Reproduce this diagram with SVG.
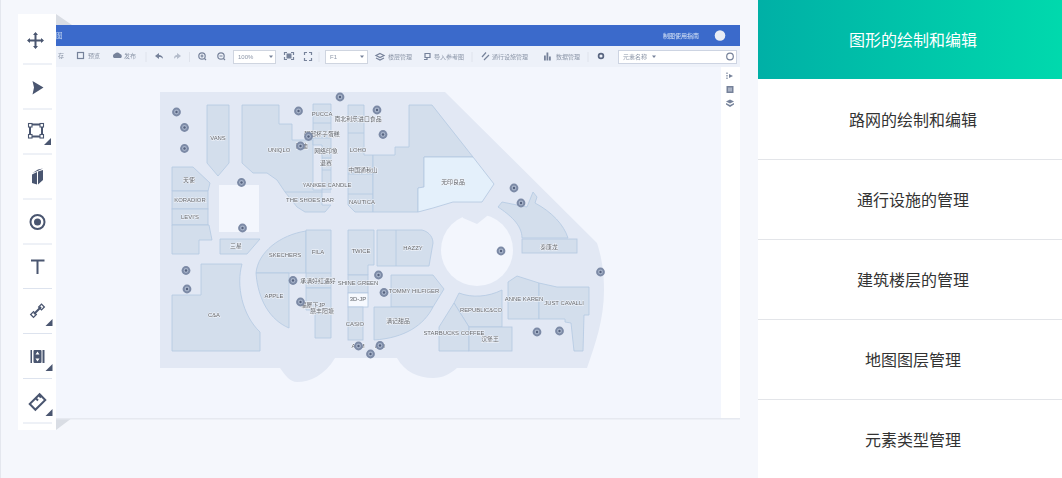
<svg xmlns="http://www.w3.org/2000/svg" width="1062" height="478" viewBox="0 0 1062 478">
<defs>
<linearGradient id="g" x1="0" y1="0" x2="1" y2="0"><stop offset="0" stop-color="#00b0a6"/><stop offset="1" stop-color="#00d9ad"/></linearGradient>
<filter id="soft" x="-2%" y="-2%" width="104%" height="104%"><feGaussianBlur stdDeviation="0.45"/></filter>
<g id="pin"><circle r="4.4" fill="#7c8aa6"/><circle r="2.4" fill="#a9b5cb"/><circle r="1.2" fill="#55627e"/></g>
<path id="corner" d="M0 0L-7 7H0Z" fill="#4a5670"/>
</defs>
<style>
text{font-family:"Liberation Sans","Noto Sans CJK SC",sans-serif}
.s{fill:#d3deec;stroke:#b4c9e2;stroke-width:.8}
.l{font-size:5.900px;fill:#63666c;text-anchor:middle;stroke:#f3f6fb;stroke-width:1px;paint-order:stroke}
.t{font-size:6px;fill:#8c96a8}
.i{fill:none;stroke:#76829a;stroke-width:1.200}
.f{fill:#76829a}
.sep{stroke:#dfe3ec;stroke-width:1}
.ic{fill:none;stroke:#4a5670;stroke-width:2}
.icf{fill:#4a5670}
.m{font-size:16px;fill:#333;text-anchor:middle}
.d{stroke:#e3e5e9;stroke-width:1}
.dt{stroke:#dde3ee;stroke-width:1}
</style>
<rect width="1062" height="478" fill="#f5f7fc"/>
<rect x="0" y="0" width="1" height="478" fill="#e4e7ee"/>

<g id="window" filter="url(#soft)">
<path d="M56 14L72 25H56Z" fill="#d9dde4"/>
<path d="M56 418H72L56 430Z" fill="#d9dde4"/>
<rect x="56" y="417" width="684" height="2.500" fill="#e6e9f0"/>
<rect x="56" y="25" width="684" height="393" fill="#f3f6fd"/>
<rect x="56" y="25" width="684" height="21" fill="#3a6bcb"/>
<text x="56" y="38" font-size="6.500" fill="#c8d8f2">图</text>
<text x="663" y="38" font-size="6" fill="#dce6f7">制图使用指南</text>
<circle cx="720" cy="35.500" r="5.300" fill="#e9edf5"/>
<rect x="56" y="46" width="684" height="21" fill="#edf1f9"/>
<rect x="721" y="67" width="19" height="351" fill="#fff"/>

<g id="toolbar">
<text x="58" y="58" class="t">存</text>
<rect x="77.500" y="52.500" width="6" height="6" class="i"/><text x="88" y="58" class="t">预览</text>
<path d="M114 58a2.500 2.500 0 0 1 1-4.500a3 3 0 0 1 5 .5a2.300 2.300 0 0 1 1 4Z" class="f"/><text x="124" y="58" class="t">发布</text>
<path class="sep" d="M146 52V62M189.500 52V62M319 52V62M472 52V62M588 52V62"/>
<path d="M155 56L159 53V55C161 55 163 56 163 59C162 57.500 161 57 159 57V59Z" class="f"/>
<path d="M181 56L177 53V55C175 55 174 56 174 59C175 57.500 176 57 177 57V59Z" fill="#b4bccb"/>
<circle cx="202" cy="56" r="3.200" class="i"/><path d="M200.500 56H203.500M202 54.500V57.500M204.500 58.500L206 60" class="i" stroke-width=".8"/>
<circle cx="221" cy="56" r="3.200" class="i"/><path d="M219.500 56H222.500M223.500 58.500L225 60" class="i" stroke-width=".8"/>
<rect x="233.500" y="50.500" width="42" height="13" fill="#fff" stroke="#cfd5e0"/><text x="238" y="58.500" class="t">100%</text><path d="M269 55.500H273L271 58Z" class="f"/>
<rect x="286.500" y="53.500" width="5" height="5" fill="#76829a"/><path d="M284.500 55V52.500H287M291 52.500H293.500V55M293.500 57V59.500H291M287 59.500H284.500V57" class="i" stroke-width=".9"/>
<path d="M304.500 55V52.500H307M309 52.500H311.500V55M311.500 58V60.500H309M307 60.500H304.500V58" class="i" stroke-width=".9"/>
<rect x="325.500" y="50.500" width="42" height="13" fill="#fff" stroke="#cfd5e0"/><text x="330" y="58.500" class="t">F1</text><path d="M360 55.500H364L362 58Z" class="f"/>
<path d="M380 53.500L384 55.500L380 57.500L376 55.500ZM376 58L380 60L384 58" class="i" stroke-width="1"/><text x="388" y="58.500" class="t">楼层管理</text>
<path d="M425 53.500H430V57.500H425ZM424 59.500H427V57" class="i" stroke-width="1"/><text x="434" y="58.500" class="t">导入参考图</text>
<path d="M482 57L486 52.500M484 60L489 55" class="i"/><text x="492" y="58.500" class="t">通行设施管理</text>
<path d="M544 55.500h1.800v5h-1.800zM546.500 52.500h1.800v8h-1.800zM549 56.500h1.800v4H549z" class="f"/><text x="556" y="58.500" class="t">数据管理</text>
<circle cx="601" cy="56" r="2.400" fill="none" stroke="#5a6680" stroke-width="1.700"/>
<rect x="618.500" y="50.500" width="118" height="13" fill="#fff" stroke="#cdd4e2"/><text x="623" y="58.500" class="t">元素名称</text><path d="M652 55.500H656L654 58Z" class="f"/>
<circle cx="730" cy="56.500" r="3.300" class="i" stroke-width=".9"/>
<path d="M727 72.500v1.500M727 75v1.500M727 77.500v1.500" class="i"/><path d="M729 74L733 76L729 78Z" class="f"/>
<rect x="726.500" y="86" width="7" height="7" class="f"/><rect x="728" y="87.500" width="4" height="4" fill="#a9b2c4"/>
<path d="M730 99.500L734 101.500L730 103.500L726 101.500ZM726 103L730 105L734 103V104.500L730 107L726 104.500Z" class="f"/>
</g>

<g id="map">
<path d="M160 92H445L597 243C601 255 604 270 604 290C604 320 595 345 587 368H457C450 374 443 378 433 378C418 378 405 372 397 358H335C325 375 310 382 297 382C290 382 285 375 280 368H160Z" fill="#e2e8f4"/>
<circle cx="477" cy="250" r="36" fill="#f3f6fd"/>
<path d="M458 208L463 218L477 224L487 216L494 208Z" fill="#e2e8f4"/>
<rect x="219" y="185" width="40" height="47" fill="#f3f6fd"/>

<path class="s" d="M207 105H229V163L218 176L207 163Z"/>
<path class="s" d="M242 105H279V124H292V140H313V190H322V205L331 205L325 212H305L297 207L285 192L277 180L267 173H253L242 163Z"/>
<path class="s" d="M285 192H331"/>
<path class="s" d="M313 104H331V190H322V145H313Z"/>
<path class="s" d="M313 123H331M313 138H331M322 158H331M322 170H331"/>
<path class="s" d="M348 105H364V155H373V212H355L348 205Z"/>
<path class="s" d="M348 133H364M348 174H373M348 194H373"/>
<path class="s" d="M373 155H395V147H409V105H432L473 157H424V187L418 188V212H373Z"/>
<path d="M424 157H473L494 184L482 202H453L433 208L418 212V188L424 187Z" fill="#e4f0fb" stroke="#b2c7e0" stroke-width=".8"/>
<path class="s" d="M498 207L502 202L527 207L533 192L537 197L535 203C552 212 564 225 568 238H522C522 225 510 215 498 207Z"/>
<rect class="s" x="522" y="239" width="55" height="14"/>
<path class="s" d="M172 167H193L210 183L208 191H172Z"/>
<rect class="s" x="172" y="191" width="36" height="18"/>
<rect class="s" x="172" y="209" width="36" height="16"/>
<path class="s" d="M172 225H209L212 240H199V254H172Z"/>
<path class="s" d="M220 239H260L247 254H220Z"/>
<path class="s" d="M201 264H242C236 285 242 315 260 332V351H172V295H201Z"/>
<path class="s" d="M256 273C258 252 280 235 306 231V273Z"/>
<path class="s" d="M306 230H331V288H306Z"/>
<path class="s" d="M306 273H331"/>
<path class="s" d="M256 273H289V328C270 320 258 300 256 273Z"/>
<path class="s" d="M306 288H331V338H315V310H306Z"/>
<path class="s" d="M348 230H374V265H368V275H348Z"/>
<rect class="s" x="348" y="275" width="20" height="18"/>
<rect x="348" y="293" width="20" height="14" fill="#f6f9fe" stroke="#b2c7e0" stroke-width=".8"/>
<rect class="s" x="348" y="307" width="15" height="33"/>
<path class="s" d="M377 230H422C430 232 433 238 433 243L429 266H377ZM396 230V266"/>
<path class="s" d="M391 275H433L444 289L433 307H391Z"/>
<path class="s" d="M374 307H433C424 325 405 338 374 340Z"/>
<path class="s" d="M459 293C472 298 488 297 502 290V327H469L454 303Z"/>
<path class="s" d="M454 303L469 327V351H439V327Z"/>
<rect class="s" x="469" y="327" width="43" height="24"/>
<path class="s" d="M508 282L517 276L539 283V319H508Z"/>
<path class="s" d="M539 283L557 287H589V315H584L583 351H574L571 323L565 322V319H539Z"/>

<g id="labels">
<text class="l" x="218" y="139.500">VANS</text>
<text class="l" x="279" y="152">UNIQLO</text>
<text class="l" x="322" y="116">PUCCA</text>
<text class="l" x="358" y="120.500">南北利乐进口食品</text>
<text class="l" x="322" y="135.500">粥邸杯子蛋糕</text>
<text class="l" x="302" y="148">阿迪</text>
<text class="l" x="326" y="152.500">网络印象</text>
<text class="l" x="326" y="164.500">退赛</text>
<text class="l" x="358" y="152">LOHO</text>
<text class="l" x="363" y="171.500">中国通秋山</text>
<text class="l" x="327" y="187">YANKEE CANDLE</text>
<text class="l" x="310" y="202">THE SHOES BAR</text>
<text class="l" x="362" y="204">NAUTICA</text>
<text class="l" x="453" y="184">无印良品</text>
<text class="l" x="189" y="181.500">天使</text>
<text class="l" x="190" y="201.500">KORADIOR</text>
<text class="l" x="190" y="219">LEVI'S</text>
<text class="l" x="236" y="247.500">三星</text>
<text class="l" x="285" y="256.500">SKECHERS</text>
<text class="l" x="318" y="253.500">FILA</text>
<text class="l" x="361" y="252.500">TWICE</text>
<text class="l" x="413" y="250">HAZZY</text>
<text class="l" x="549" y="248.500">泰康龙</text>
<text class="l" x="274" y="297.500">APPLE</text>
<text class="l" x="318" y="282.500">承满好红遇好</text>
<text class="l" x="358" y="284.500">SHINE GREEN</text>
<text class="l" x="358" y="300.500">3D-JP</text>
<text class="l" x="414" y="292.500">TOMMY HILFIGER</text>
<text class="l" x="313" y="307">福屋下JP</text>
<text class="l" x="322" y="312.500">膳丰阳塘</text>
<text class="l" x="214" y="316.500">C&amp;A</text>
<text class="l" x="355" y="325.500">CASIO</text>
<text class="l" x="398" y="323">满记甜品</text>
<text class="l" x="481" y="311.500">REPUBLIC&amp;CO</text>
<text class="l" x="454" y="334.500">STARBUCKS COFFEE</text>
<text class="l" x="490" y="340.500">汉堡王</text>
<text class="l" x="524" y="300.500">ANNE KAREN</text>
<text class="l" x="564" y="304.500">JUST CAVALLI</text>
<text class="l" x="358" y="348">ADM</text>
<text class="l" x="380" y="348">ADI</text>
</g>
<g id="pins">
<use href="#pin" x="176.500" y="112"/><use href="#pin" x="184.500" y="127.500"/><use href="#pin" x="184.500" y="148.500"/>
<use href="#pin" x="241.500" y="182.500"/><use href="#pin" x="242.500" y="228"/><use href="#pin" x="298.500" y="111"/>
<use href="#pin" x="340" y="97"/><use href="#pin" x="377" y="110"/><use href="#pin" x="383" y="134.500"/>
<use href="#pin" x="308.500" y="136.500"/><use href="#pin" x="300.500" y="146"/>
<use href="#pin" x="186" y="270.500"/><use href="#pin" x="187" y="289"/><use href="#pin" x="293" y="280.500"/><use href="#pin" x="300.500" y="302"/>
<use href="#pin" x="378.500" y="275"/><use href="#pin" x="384" y="292.500"/><use href="#pin" x="358.500" y="346"/><use href="#pin" x="380" y="345.500"/><use href="#pin" x="370.500" y="354"/>
<use href="#pin" x="501" y="251"/><use href="#pin" x="600.500" y="272"/><use href="#pin" x="537" y="332"/><use href="#pin" x="559.500" y="331"/>
<use href="#pin" x="514" y="188"/><use href="#pin" x="521" y="203"/>
</g>
</g>
</g>

<g id="tools">
<rect x="18" y="14" width="38" height="416" fill="#fff"/>
<path class="dt" d="M23 64H52M23 109H52M23 154H52M23 199H52M23 244H52M23 288.500H52M23 333.500H52M23 378.500H52M23 423H52"/>
<g id="tool-move"><path class="ic" stroke-width="1.500" d="M28.500 40.500H42.500M35.500 33.500V47.500"/><path class="icf" d="M35.500 32L38 35H33ZM35.500 49L38 46H33ZM27 40.500L30 38V43ZM44 40.500L41 38V43Z"/></g>
<path id="tool-select" class="icf" d="M32.500 81L43.500 87.500L32.500 94.500L34 87.500Z"/>
<g id="tool-shape"><rect x="30" y="124.500" width="12" height="12" class="ic" stroke-width="1.200"/><g fill="#fff" stroke="#4a5670" stroke-width="1.100"><rect x="28.500" y="123.500" width="3.500" height="3.500"/><rect x="40" y="123.500" width="3.500" height="3.500"/><rect x="28.500" y="134.500" width="3.500" height="3.500"/><rect x="40" y="134.500" width="3.500" height="3.500"/></g><use href="#corner" x="51" y="138"/></g>
<path id="tool-block" class="icf" d="M32 174.500L37 172V184.500L32 183ZM38 171.500L43 170V180L38 184.500ZM32.500 173L38 169.500L43 168.500L37.500 171Z"/>
<g id="tool-pin"><circle cx="37.500" cy="222" r="7" class="ic" stroke-width="2.200"/><circle cx="37.500" cy="222" r="3.500" class="icf"/></g>
<path id="tool-text" class="ic" d="M31 260.500H44.500M37.500 260.500V274"/>
<g id="tool-line"><path class="ic" stroke-width="1.300" d="M34 314L41 307"/><rect x="31.500" y="312.500" width="4" height="4" fill="none" stroke="#4a5670" stroke-width="1.300" transform="rotate(45 33.500 314.500)"/><rect x="39.500" y="305" width="4" height="4" fill="none" stroke="#4a5670" stroke-width="1.300" transform="rotate(45 41.500 307)"/><use href="#corner" x="52.500" y="319"/></g>
<g id="tool-stairs"><path class="icf" d="M30.500 350H32V363H30.500ZM42.500 350H44.500V363H42.500Z"/><rect x="33.500" y="350" width="8" height="13" rx="1" class="icf"/><path d="M37.500 351.500L39.500 354.500H35.500ZM37.500 361.500L39.500 358.500H35.500Z" fill="#fff"/><use href="#corner" x="52.500" y="364"/></g>
<g id="tool-ruler"><rect x="30.500" y="398" width="14" height="8" class="ic" stroke-width="1.500" transform="rotate(-45 37.500 402)"/><path class="ic" stroke-width="1" d="M36 398.500L38 400.500M39 395.500L41 397.500"/><use href="#corner" x="52.500" y="409"/></g>
</g>

<g id="menu">
<rect x="758" y="0" width="304" height="478" fill="#fff"/>
<g id="m1"><rect x="758" y="0" width="304" height="79" fill="url(#g)"/><text class="m" x="913" y="46" style="fill:#fff">图形的绘制和编辑</text></g>
<g id="m2"><text class="m" x="913" y="126">路网的绘制和编辑</text></g>
<g id="m3"><text class="m" x="913" y="206">通行设施的管理</text></g>
<g id="m4"><text class="m" x="913" y="286">建筑楼层的管理</text></g>
<g id="m5"><text class="m" x="913" y="366">地图图层管理</text></g>
<g id="m6"><text class="m" x="913" y="446">元素类型管理</text></g>
<path class="d" d="M758 159.500H1062M758 239.500H1062M758 319.500H1062M758 399.500H1062"/>
</g>
</svg>
